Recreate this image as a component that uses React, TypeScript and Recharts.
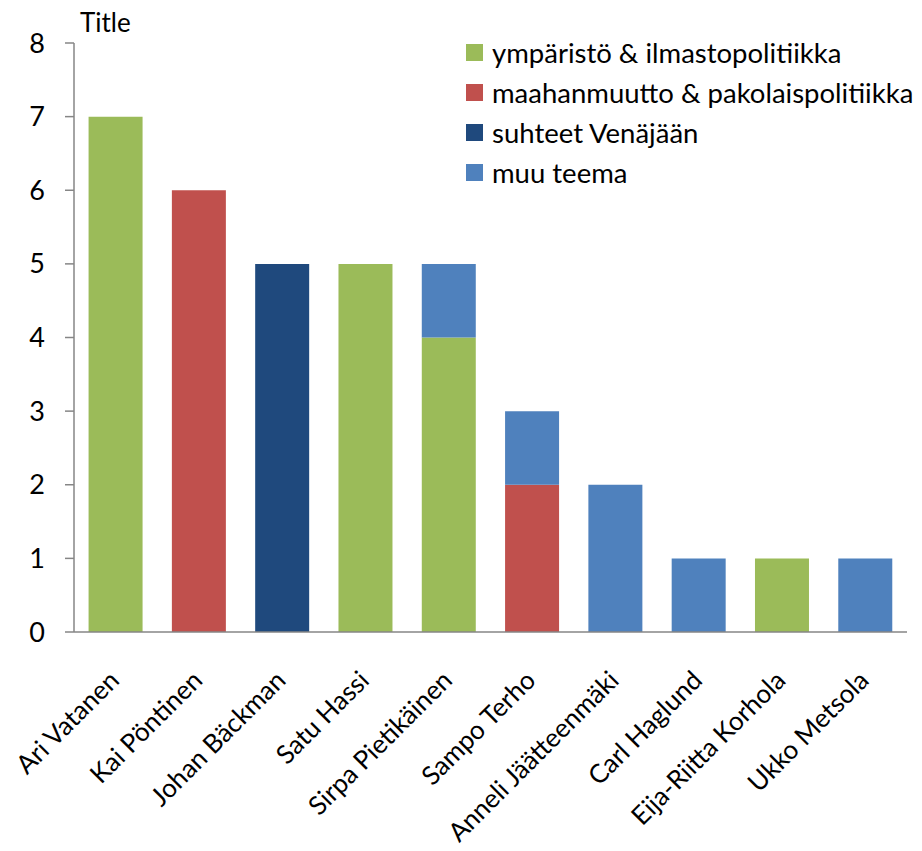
import React from 'react';
import { BarChart, Bar, XAxis, YAxis, Legend } from 'recharts';

const categories = [
  'Ari Vatanen',
  'Kai Pöntinen',
  'Johan Bäckman',
  'Satu Hassi',
  'Sirpa Pietikäinen',
  'Sampo Terho',
  'Anneli Jäätteenmäki',
  'Carl Haglund',
  'Eija-Riitta Korhola',
  'Ukko Metsola',
];

const ymparisto = [7, 0, 0, 5, 4, 0, 0, 0, 1, 0];
const maahanmuutto = [0, 6, 0, 0, 0, 2, 0, 0, 0, 0];
const venaja = [0, 0, 5, 0, 0, 0, 0, 0, 0, 0];
const muu = [0, 0, 0, 0, 1, 1, 2, 1, 0, 1];

const yTicks = [0, 1, 2, 3, 4, 5, 6, 7, 8];
const boundaryTicks = [0, 1, 2, 3, 4, 5, 6, 7, 8, 9, 10];

const series = [
  { key: 'ymparisto', name: 'ympäristö & ilmastopolitiikka', color: '#9BBB59', values: ymparisto },
  { key: 'maahanmuutto', name: 'maahanmuutto & pakolaispolitiikka', color: '#C0504D', values: maahanmuutto },
  { key: 'venaja', name: 'suhteet Venäjään', color: '#1F497D', values: venaja },
  { key: 'muu', name: 'muu teema', color: '#4F81BD', values: muu },
];

const data = categories.map((name, i) => {
  const row: Record<string, any> = { name };
  series.forEach((s) => {
    row[s.key] = s.values[i];
  });
  return row;
});

const FONT = 'Lato, "Open Sans", sans-serif';
const FS = 27;
const AXIS = '#868686';

const CatTick = (props: any) => {
  const { x, y, payload } = props;
  const ax = x + 5;
  const ay = y + 50;
  return (
    <text
      x={ax}
      y={ay}
      transform={`rotate(-45 ${ax} ${ay})`}
      textAnchor="end"
      fontSize={26}
      fill="#000"
      fontFamily={FONT}
    >
      {payload.value}
    </text>
  );
};

const EmptyTick = () => <g />;

const LegendContent = () => (
  <div style={{ fontFamily: FONT, fontSize: 27.5, color: '#000' }}>
    {series.map((s) => (
      <div key={s.key} style={{ display: 'flex', alignItems: 'center', height: 40, whiteSpace: 'nowrap' }}>
        <div style={{ width: 17, height: 17, background: s.color, marginRight: 9, flex: 'none' }} />
        <span>{s.name}</span>
      </div>
    ))}
  </div>
);

export default function App() {
  return (
    <div style={{ position: 'relative', width: 906, height: 843, fontFamily: FONT }}>
      <div
        style={{
          position: 'absolute',
          left: 72,
          top: 1,
          fontSize: 26,
          lineHeight: '27px',
          color: '#000',
          fontFamily: FONT,
        }}
      >
        Title
      </div>
      <BarChart
        width={906}
        height={843}
        data={data}
        margin={{ top: 35, right: 7, left: 0, bottom: 0 }}
        barCategoryGap="17.5%"
      >
        <YAxis
          domain={[0, 8]}
          ticks={yTicks}
          interval={0}
          width={66}
          tickSize={9}
          tickMargin={20}
          stroke={AXIS}
          axisLine={{ stroke: AXIS, strokeWidth: 1.5 }}
          tickLine={{ stroke: AXIS, strokeWidth: 1.5 }}
          tick={{ fill: '#000', fontSize: FS, fontFamily: FONT }}
        />
        <XAxis
          xAxisId="grid"
          type="number"
          domain={[0, 10]}
          allowDataOverflow
          ticks={boundaryTicks}
          interval={0}
          height={0}
          axisLine={false}
          tickSize={8}
          tickLine={{ stroke: AXIS, strokeWidth: 1.5 }}
          tick={EmptyTick}
        />
        <XAxis
          xAxisId="cat"
          dataKey="name"
          interval={0}
          height={219}
          tickSize={0}
          tickMargin={0}
          tickLine={false}
          axisLine={{ stroke: AXIS, strokeWidth: 1.5 }}
          tick={<CatTick />}
        />
        <Legend
          layout="horizontal"
          verticalAlign="middle"
          align="center"
          wrapperStyle={{ top: 24, left: 458, width: 448 }}
          content={<LegendContent />}
        />
        {series.map((s) => (
          <Bar
            key={s.key}
            xAxisId="cat"
            dataKey={s.key}
            name={s.name}
            stackId="a"
            fill={s.color}
            isAnimationActive={false}
          />
        ))}
      </BarChart>
    </div>
  );
}
